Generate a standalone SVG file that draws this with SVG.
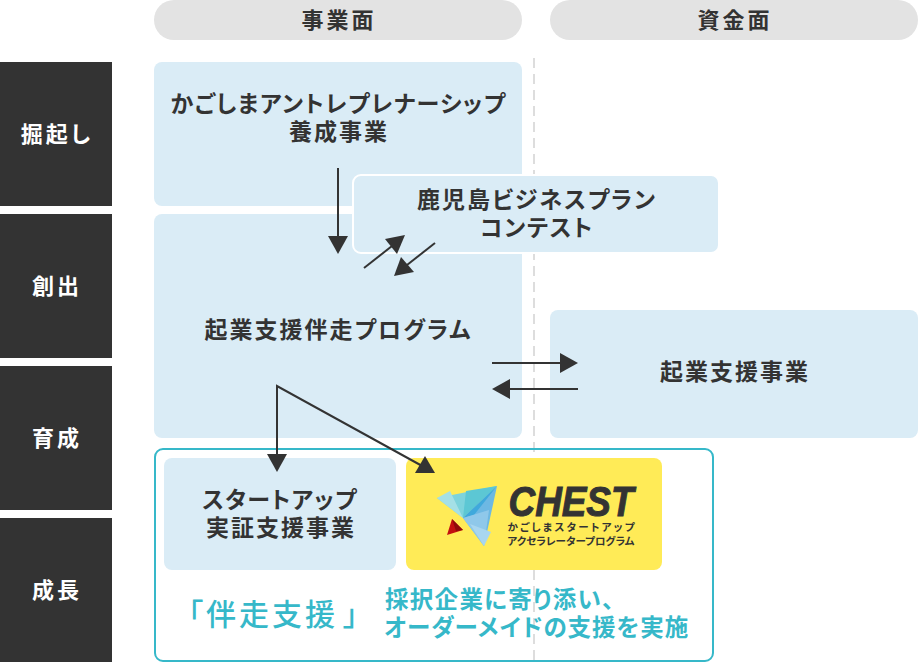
<svg xmlns="http://www.w3.org/2000/svg" width="918" height="662" viewBox="0 0 918 662">
<style>
text{font-family:"Noto Sans CJK JP","Noto Sans",sans-serif;font-weight:700;fill:#333;text-anchor:middle;font-feature-settings:"palt"}
.h{font-size:22px;letter-spacing:3px}
.side{font-size:22px;fill:#fff;letter-spacing:3px}
.n{font-size:23px;letter-spacing:2px}
.t{fill:#36b8c9;font-weight:500}
.l{stroke:#333;stroke-width:2;fill:none}
.a{fill:#333}
</style>
<rect width="918" height="662" fill="#fff"/>
<line x1="534" y1="58" x2="534" y2="662" stroke="#ddd" stroke-width="2" stroke-dasharray="10 6"/>
<g id="header-business"><rect x="154" y="0" width="368" height="40" rx="20" fill="#e3e3e3"/><text class="h" x="339" y="28">事業面</text></g>
<g id="header-finance"><rect x="550" y="0" width="368" height="40" rx="20" fill="#e3e3e3"/><text class="h" x="735" y="28">資金面</text></g>
<g id="stage-1"><rect x="0" y="62" width="112" height="144" fill="#333"/><text class="side" x="57" y="142">掘起し</text></g>
<g id="stage-2"><rect x="0" y="214" width="112" height="144" fill="#333"/><text class="side" x="57" y="294">創出</text></g>
<g id="stage-3"><rect x="0" y="366" width="112" height="144" fill="#333"/><text class="side" x="57" y="446">育成</text></g>
<g id="stage-4"><rect x="0" y="518" width="112" height="144" fill="#333"/><text class="side" x="57" y="598">成長</text></g>
<g id="node-yosei"><rect x="154" y="62" width="368" height="144" rx="8" fill="#daecf6"/><text class="n" x="338.500" y="112" style="letter-spacing:1.5px">かごしまアントレプレナーシップ</text><text class="n" x="339" y="140">養成事業</text></g>
<g id="node-banso"><rect x="154" y="214" width="368" height="224" rx="8" fill="#daecf6"/><text class="n" x="338.500" y="338">起業支援伴走プログラム</text></g>
<g id="node-contest"><rect x="353" y="175" width="366" height="78" rx="8" fill="#daecf6" stroke="#fff" stroke-width="2"/><text class="n" x="537" y="208">鹿児島ビジネスプラン</text><text class="n" x="537" y="236" style="letter-spacing:1.6px">コンテスト</text></g>
<g id="node-shien"><rect x="550" y="310" width="368" height="128" rx="8" fill="#daecf6"/><text class="n" x="735" y="380">起業支援事業</text></g>
<g id="group-banso"><rect x="155" y="449" width="558" height="212" rx="8" fill="none" stroke="#36b8c9" stroke-width="2"/>
<text class="t" x="188" y="625" style="font-size:30px;letter-spacing:3px;text-anchor:start">「伴走支援<tspan dx="5">」</tspan></text>
<text class="t" x="385" y="608" style="font-size:23.5px;text-anchor:start;letter-spacing:1.3px;font-weight:700">採択企業に寄り添い、</text>
<text class="t" x="384" y="636" style="font-size:23.5px;text-anchor:start;letter-spacing:1px;font-weight:700">オーダーメイドの支援を実施</text></g>
<g id="node-jissho"><rect x="164" y="458" width="232" height="112" rx="8" fill="#daecf6"/><text class="n" x="280" y="508" style="letter-spacing:1.3px">スタートアップ</text><text class="n" x="281" y="536">実証支援事業</text></g>
<g id="node-chest"><rect x="406" y="458" width="256" height="112" rx="8" fill="#ffeb57"/>
<polygon points="437,498 497,486 463,518" fill="#7dd3dc"/>
<polygon points="437,498 450,491 463,518" fill="#a5e0e6"/>
<polygon points="497,486 466,491 463,518" fill="#5cc7d4"/>
<polygon points="497,486 463,518 484,546" fill="#6db8e3"/>
<polygon points="497,486 463,518 474,515" fill="#3fa9dc"/>
<polygon points="463,518 484,546 489,510" fill="#8fc8ea"/>
<polygon points="484,546 491,532 470,524" fill="#a8d6f0"/>
<polygon points="452,519 463,530 447,535" fill="#c21010"/>
<polygon points="452,519 463,530 456,531" fill="#8e0b0b"/>
<text x="571" y="516" textLength="125" lengthAdjust="spacingAndGlyphs" stroke="#333" stroke-width="1" style="font-family:'Liberation Sans',sans-serif;font-style:italic;font-size:42px">CHEST</text>
<text x="571" y="531" textLength="127" lengthAdjust="spacing" style="font-size:10.5px">かごしまスタートアップ</text>
<text x="571" y="545" textLength="127" lengthAdjust="spacing" style="font-size:10.5px">アクセラレータープログラム</text></g>
<g id="connectors">
<path class="l" d="M338 168V238"/><polygon class="a" points="328,236 348,236 338,254"/>
<path class="l" d="M364 268L392 246"/><polygon class="a" points="385,239 405,235 397,254"/>
<path class="l" d="M435 243L407 265"/><polygon class="a" points="401,257 394,276 414,272"/>
<path class="l" d="M492 363H562"/><polygon class="a" points="560,353 578,363 560,373"/>
<path class="l" d="M578 389H508"/><polygon class="a" points="510,379 492,389 510,399"/>
<path class="l" d="M277 456V386L424 467"/><polygon class="a" points="267,454 287,454 277,472"/><polygon class="a" points="425,456 435,473 415,473"/>
</g>
</svg>
